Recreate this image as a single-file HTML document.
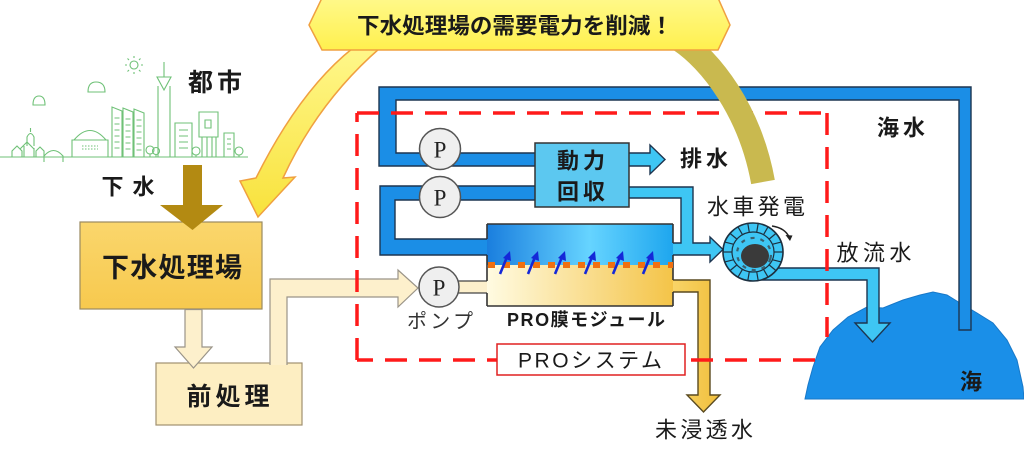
<!DOCTYPE html>
<html><head><meta charset="utf-8">
<style>
html,body{margin:0;padding:0;background:#fff;width:1024px;height:455px;overflow:hidden}
svg{display:block}
</style></head>
<body>
<svg width="1024" height="455" viewBox="0 0 1024 455" xmlns="http://www.w3.org/2000/svg" font-family='"Liberation Sans","Noto Sans CJK JP",sans-serif'>
<defs>
  <linearGradient id="gBlueMod" x1="0" y1="0" x2="1" y2="0">
    <stop offset="0" stop-color="#1a7ede"/>
    <stop offset="0.55" stop-color="#66d4ff"/>
    <stop offset="1" stop-color="#1ea6ee"/>
  </linearGradient>
  <linearGradient id="gYelMod" x1="0" y1="0" x2="1" y2="0">
    <stop offset="0" stop-color="#fffbe2"/>
    <stop offset="1" stop-color="#f4c448"/>
  </linearGradient>
  <linearGradient id="gBanner" x1="0" y1="0" x2="0" y2="1">
    <stop offset="0" stop-color="#fff98a"/>
    <stop offset="1" stop-color="#fff04e"/>
  </linearGradient>
  <linearGradient id="gYArrow" x1="0" y1="0" x2="0" y2="1">
    <stop offset="0" stop-color="#fff78a"/>
    <stop offset="1" stop-color="#f8e23c"/>
  </linearGradient>
  <linearGradient id="gBox1" x1="0" y1="0" x2="0" y2="1">
    <stop offset="0" stop-color="#fad66c"/>
    <stop offset="1" stop-color="#f7c94e"/>
  </linearGradient>
  <linearGradient id="gYPipe" x1="0" y1="0" x2="1" y2="0">
    <stop offset="0" stop-color="#f9d66c"/>
    <stop offset="1" stop-color="#f1bf3c"/>
  </linearGradient>
</defs>

<!-- City skyline -->
<g stroke="#6fc177" stroke-width="1.1" fill="none">
  <line x1="0" y1="157" x2="248" y2="157"/>
  <path d="M12 157 V151 L17 146 L22 151 V157 M20 149 L27 142 L34 149 M24 157 V146 M34 157 V148 M27 146 V137 Q30.5 130 34 137 V146 M30.5 132 V128 M36 157 V151 L40 147 L44 151 V157"/>
  <path d="M44 162 V156 Q53.5 145 63 156 V162"/>
  <path d="M72 157 V140 H108 V157 M74 140 Q90 121 106 140"/>
  <path d="M82 146 H98 M82 149 H98" stroke-dasharray="1.5 1.5"/>
  <path d="M112 157 V107 L122 111 V157 M123 157 V108 L133 112 V157 M134 157 V109 L144 113 V157"/>
  <path d="M114.5 118 H119.5 M114.5 124 H119.5 M114.5 130 H119.5 M114.5 136 H119.5 M114.5 142 H119.5 M114.5 148 H119.5 M125.5 119 H130.5 M125.5 125 H130.5 M125.5 131 H130.5 M125.5 137 H130.5 M125.5 143 H130.5 M125.5 149 H130.5 M136.5 120 H141.5 M136.5 126 H141.5 M136.5 132 H141.5 M136.5 138 H141.5 M136.5 144 H141.5 M136.5 150 H141.5"/>
  <path d="M158 157 V86 M170 157 V86 M157 77 H171 L164 90 Z M164 77 V62"/>
  <circle cx="150" cy="150" r="4"/><circle cx="156" cy="151" r="3.5"/>
  <path d="M150 154 V157 M156 154.5 V157"/>
  <path d="M175 157 V123 H192 V157 M179 130 H188 M179 136 H188 M179 142 H188 M179 148 H188"/>
  <circle cx="196" cy="151" r="4"/><path d="M196 155 V157"/>
  <path d="M199 137 V112 H218 V137 Z M205 120 H211 V128 H205 Z M202 137 V157 M207 137 V157 M212 137 V157 M216 137 V157"/>
  <path d="M224 157 V133 H234 V157 M227 139 H231 M227 144 H231 M227 149 H231"/>
  <circle cx="239" cy="151" r="4"/><path d="M239 155 V157"/>
  <path d="M33 105 Q33 96 39 96 Q45 96 45 105 Z"/>
  <path d="M88 92 Q88 82 96 82 Q105 82 105 92 Z"/>
  <circle cx="134" cy="65" r="4"/>
  <path d="M134 58 V56 M134 72 V74 M127 65 H125 M141 65 H143 M129 60 L127.5 58.5 M139 60 L140.5 58.5 M129 70 L127.5 71.5 M139 70 L140.5 71.5"/>
</g>

<!-- Yellow curved arrow (left) -->
<path d="M353 48 Q300 90 256 178 L240 181 L258 217 L295 177 L283 178 Q318 102 380 48 Z" fill="url(#gYArrow)" stroke="#f0a040" stroke-width="1.5"/>

<!-- Sea -->
<path d="M805 399 L808 385 L813 367 L820 347 L833 330 L848 317 L867 307 L883 308 L903 300 L920 295 L933 292 L947 295 L960 303 L977 313 L993 323 L1007 340 L1017 360 L1023 387 L1024 399 Z" fill="#1a8fe8" stroke="#1878c8" stroke-width="1"/>

<!-- Left boxes -->
<rect x="80" y="222" width="182" height="87" fill="url(#gBox1)" stroke="#9a8a60" stroke-width="1.2"/>
<rect x="156" y="363" width="146" height="62" fill="#fdeec2" stroke="#a09070" stroke-width="1.2"/>

<!-- Pale pipe from 前処理 to pump -->
<path d="M270 365 V279 H398 V270 L418 288 L398 307 V297 H287 V365" fill="#fdf0cc" stroke="#9a9488" stroke-width="1.2"/>
<!-- Pale arrow down -->
<path d="M185 309.5 H202 V347 H212 L193.5 368 L175 347 H185 Z" fill="#fdf0cc" stroke="#9a9488" stroke-width="1.2"/>
<!-- Brown arrow -->
<path d="M183 165 H202 V205 H223 L192.5 230 L160 205 H183 Z" fill="#b38a12"/>

<!-- Blue pipe 1 (seawater loop) -->
<path d="M540 166 H379 V87 H971 V330 H959 V100 H396 V153 H540 Z" fill="#1b8ee6" stroke="#1d3550" stroke-width="1.4"/>
<!-- Blue pipe 2 -->
<path d="M540 186 H380 V255 H490 V239 H395 V200 H540 Z" fill="#1b8ee6" stroke="#1d3550" stroke-width="1.4"/>
<!-- Cyan pipe to turbine -->
<path d="M625 187 H693 V243 H710 V237 L723 249.5 L710 262 V255 H670 V243 H681 V198 H625 Z" fill="#3ec6f4" stroke="#1d3550" stroke-width="1.4"/>
<!-- Arrow to 排水 -->
<path d="M625 153 H650 V145 L665 159.5 L650 174 V166 H625 Z" fill="#3ec6f4" stroke="#1d3550" stroke-width="1.4"/>
<!-- Turbine outflow -->
<path d="M760 268 H879 V323 H890 L872.5 342 L855 323 H867 V280 H760 Z" fill="#3ec6f4" stroke="#1d3550" stroke-width="1.4"/>
<!-- Yellow pipe 未浸透水 -->
<path d="M668 280 H710 V395 H720 L703.5 412 L687 395 H698 V292 H668 Z" fill="url(#gYPipe)" stroke="#5a4a20" stroke-width="1.4"/>
<!-- Pale pipe pump -> module -->
<path d="M455 281 H490 V293 H455 Z" fill="#fdf0cc" stroke="#444" stroke-width="1.2"/>

<!-- PRO module -->
<rect x="487" y="224" width="186" height="41" fill="url(#gBlueMod)"/>
<rect x="487" y="265" width="186" height="41" fill="url(#gYelMod)"/>
<path d="M487 224 H673 M673 224 V243 M673 255 V280 M673 292 V306 M487 306 H673 M487 224 V239 M487 255 V281 M487 293 V306" stroke="#333" stroke-width="1.6" fill="none"/>
<line x1="488" y1="265" x2="673" y2="265" stroke="#f07010" stroke-width="6" stroke-dasharray="7 8"/>
<g stroke="#1428d8" stroke-width="2.6" fill="#1428d8">
  <line x1="500" y1="274" x2="507" y2="257"/><path d="M503 258 L510 251 L511 261 Z" stroke="none"/>
  <line x1="528" y1="274" x2="535" y2="257"/><path d="M531 258 L538 251 L539 261 Z" stroke="none"/>
  <line x1="555" y1="274" x2="562" y2="257"/><path d="M558 258 L565 251 L566 261 Z" stroke="none"/>
  <line x1="585" y1="274" x2="592" y2="257"/><path d="M588 258 L595 251 L596 261 Z" stroke="none"/>
  <line x1="613" y1="274" x2="620" y2="257"/><path d="M616 258 L623 251 L624 261 Z" stroke="none"/>
  <line x1="643" y1="274" x2="650" y2="257"/><path d="M646 258 L653 251 L654 261 Z" stroke="none"/>
</g>

<!-- 動力回収 box -->
<rect x="535" y="143" width="94" height="64" fill="#5cc8f0" stroke="#333" stroke-width="1.5"/>

<!-- Pumps -->
<g fill="#efefef" stroke="#555" stroke-width="1.5">
  <circle cx="440" cy="149" r="20.5"/>
  <circle cx="440" cy="197" r="20.5"/>
  <circle cx="439" cy="287" r="20"/>
</g>
<g font-family='"Liberation Serif",serif' font-size="23" fill="#222" text-anchor="middle" dominant-baseline="central">
  <text x="440" y="150">P</text>
  <text x="440" y="198">P</text>
  <text x="439" y="288">P</text>
</g>

<!-- Turbine -->
<ellipse cx="753" cy="252" rx="30" ry="29" fill="#3ec6f4" stroke="#1c3040" stroke-width="1.6"/>
<ellipse cx="753" cy="252" rx="21" ry="20" fill="#3ec6f4" stroke="#1c3040" stroke-width="1.2"/>
<g stroke="#1c3040" stroke-width="1.2">
  <line x1="774" y1="252" x2="783" y2="252"/>
  <line x1="772.7" y1="259.8" x2="781.2" y2="261.9"/>
  <line x1="769.1" y1="264.9" x2="776" y2="270.6"/>
  <line x1="763.5" y1="269.3" x2="768" y2="277.1"/>
  <line x1="756.7" y1="271.7" x2="758.2" y2="280.6"/>
  <line x1="749.3" y1="271.7" x2="747.8" y2="280.6"/>
  <line x1="742.5" y1="269.3" x2="738" y2="277.1"/>
  <line x1="736.9" y1="264.9" x2="730" y2="270.6"/>
  <line x1="733.3" y1="259.8" x2="724.8" y2="261.9"/>
  <line x1="732" y1="252" x2="723" y2="252"/>
  <line x1="733.3" y1="244.2" x2="724.8" y2="242.1"/>
  <line x1="736.9" y1="239.1" x2="730" y2="233.4"/>
  <line x1="742.5" y1="234.7" x2="738" y2="226.9"/>
  <line x1="749.3" y1="232.3" x2="747.8" y2="223.4"/>
  <line x1="756.7" y1="232.3" x2="758.2" y2="223.4"/>
  <line x1="763.5" y1="234.7" x2="768" y2="226.9"/>
  <line x1="769.1" y1="239.1" x2="776" y2="233.4"/>
  <line x1="772.7" y1="244.2" x2="781.2" y2="242.1"/>
</g>
<ellipse cx="754" cy="254" rx="17" ry="16" fill="none" stroke="#3a6070" stroke-width="2.2" stroke-dasharray="4 6" transform="rotate(15 754 254)"/>
<ellipse cx="755" cy="256" rx="14" ry="12" fill="#3a3a3a"/>
<path d="M772 226 Q785 228 789 237" fill="none" stroke="#222" stroke-width="1.5"/>
<path d="M785.5 235 L792.5 235.5 L790 241 Z" fill="#222"/>

<!-- Red dashed PRO system boundary -->
<g stroke="#ff1a1a" stroke-width="3.5" fill="none" stroke-dasharray="22 12">
  <path d="M357 113 H827"/>
  <path d="M827 113 V337"/>
  <path d="M815 360 H357"/>
  <path d="M357 360 V113"/>
</g>
<rect x="497" y="344" width="188" height="31" fill="#fff" stroke="#e02020" stroke-width="1.5"/>

<!-- Olive band -->
<path d="M680 40 C710 60 750 110 763 182" fill="none" stroke="#c9b94f" stroke-width="24"/>

<!-- Banner -->
<path d="M322 -2 H718 L730 25 L718 50 H322 L309 25 Z" fill="url(#gBanner)" stroke="#f0a040" stroke-width="1.5"/>
<text x="515" y="26" font-size="22" font-weight="bold" fill="#1a1a1a" text-anchor="middle" dominant-baseline="central" textLength="316" lengthAdjust="spacingAndGlyphs">下水処理場の需要電力を削減！</text>

<!-- Labels -->
<g fill="#1a1a1a" text-anchor="middle" dominant-baseline="central">
  <text x="215" y="83" font-size="25" font-weight="bold" textLength="54">都市</text>
  <text x="128" y="187" font-size="22" font-weight="bold" textLength="53">下水</text>
  <text x="172" y="268" font-size="27" font-weight="bold" textLength="140">下水処理場</text>
  <text x="228" y="397" font-size="25" font-weight="bold" textLength="83">前処理</text>
  <text x="581" y="161" font-size="22" font-weight="bold" textLength="48">動力</text>
  <text x="581" y="192" font-size="22" font-weight="bold" textLength="48">回収</text>
  <text x="704" y="159" font-size="22" font-weight="bold" textLength="48">排水</text>
  <text x="901" y="128" font-size="22" font-weight="bold" textLength="48">海水</text>
  <text x="756" y="207" font-size="22" textLength="98">水車発電</text>
  <text x="874" y="253" font-size="22" textLength="75">放流水</text>
  <text x="971" y="382" font-size="22" font-weight="bold">海</text>
  <text x="440" y="322" font-size="20" fill="#333" textLength="66">ポンプ</text>
  <text x="586" y="320" font-size="18" font-weight="bold" textLength="158">PRO膜モジュール</text>
  <text x="590" y="361" font-size="21" textLength="144">PROシステム</text>
  <text x="704" y="430" font-size="22" textLength="98">未浸透水</text>
</g>
</svg>
</body></html>
